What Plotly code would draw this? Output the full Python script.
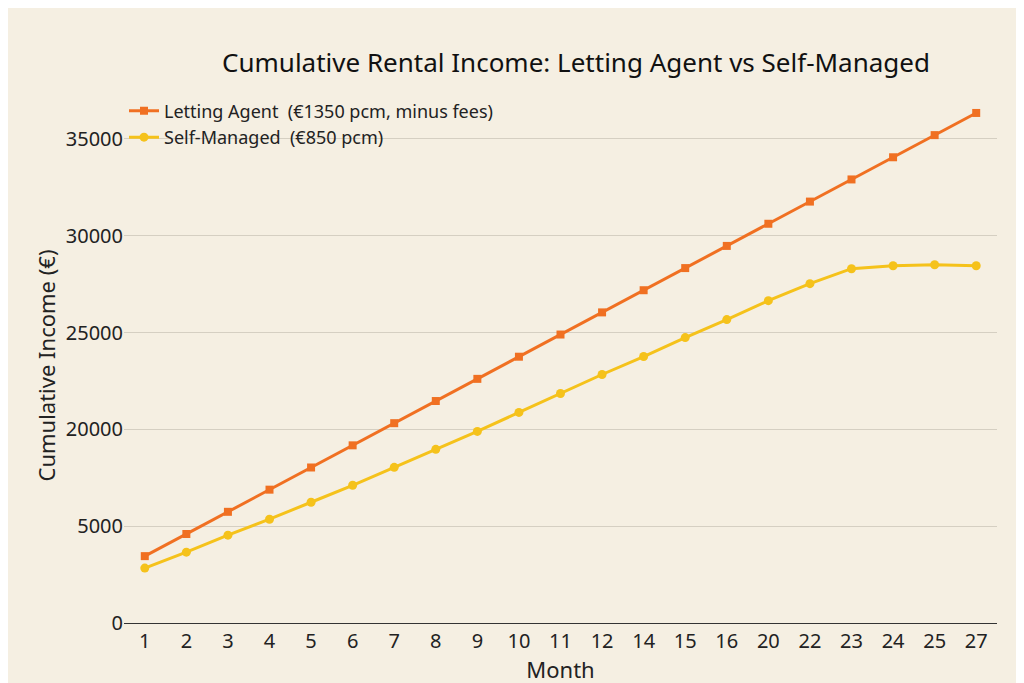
import plotly.graph_objects as go

months = ["1","2","3","4","5","6","7","8","9","10","11","12","14","15","16","20","22","23","24","25","27"]
agent = [3454,4598,5743,6887,8032,9176,10321,11465,12610,13754,14899,16043,17188,18332,19477,20621,21766,22910,24055,25199,26344]
self_managed = [2835,3660,4536,5361,6237,7113,8041,8969,9897,10876,11856,12835,13763,14742,15670,16649,17526,18299,18454,18505,18454]
tick_vals = [0,5000,10000,15000,20000,25000]
tick_text = ["0","5000","20000","25000","30000","35000"]

fig = go.Figure()
fig.add_trace(go.Scatter(x=months, y=agent, mode="lines+markers", name="Letting Agent  (€1350 pcm, minus fees)",
    line=dict(color="#f07022", width=3), marker=dict(symbol="square", size=8, color="#f07022")))
fig.add_trace(go.Scatter(x=months, y=self_managed, mode="lines+markers", name="Self-Managed  (€850 pcm)",
    line=dict(color="#f5c21b", width=3), marker=dict(symbol="circle", size=9, color="#f5c21b")))
fig.update_layout(
    width=1024, height=683, paper_bgcolor="#f5efe2", plot_bgcolor="#f5efe2",
    font=dict(family="Noto Sans", color="#222", size=18),
    title=dict(text="Cumulative Rental Income: Letting Agent vs Self-Managed", x=0.112, xanchor="left", y=0.92, yanchor="middle",
               font=dict(size=26, color="#111")),
    margin=dict(l=116, r=35, t=100, b=68),
    legend=dict(x=0.0, y=1.03, xanchor="left", yanchor="top", bgcolor="rgba(0,0,0,0)", font=dict(size=18), tracegroupgap=0),
    showlegend=True,
)
fig.update_layout(title_x=115/1024, title_xref="paper")
fig.update_xaxes(type="category", range=[-0.5, 20.5], automargin=False, title=dict(text="Month", standoff=2), showgrid=False,
                 showline=True, linecolor="#333", ticks="", tickfont=dict(size=20))
fig.update_yaxes(range=[0, 26600], automargin=False, tickvals=tick_vals, ticktext=tick_text,
                 title=dict(text="Cumulative Income (€)", standoff=4),
                 gridcolor="#d5cfc2", zeroline=False, tickfont=dict(size=20))
fig.write_html("out.html")
